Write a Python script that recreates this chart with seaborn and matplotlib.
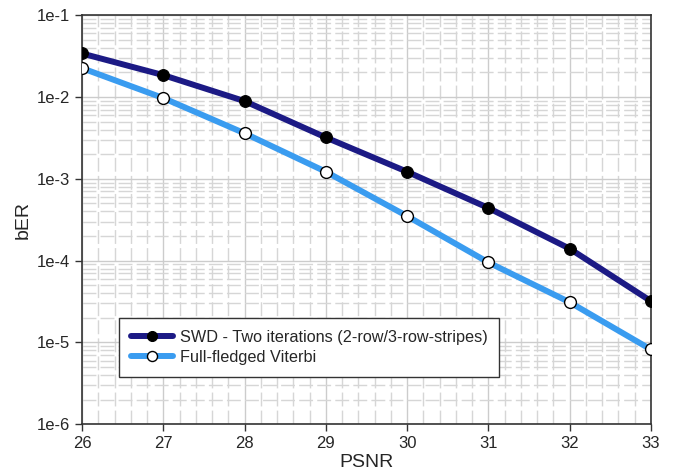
import numpy as np
import pandas as pd
import seaborn as sns
import matplotlib.pyplot as plt
from matplotlib.ticker import LogLocator, MultipleLocator, FixedLocator

psnr = [26, 27, 28, 29, 30, 31, 32, 33]
swd_ber = [3.4e-2, 1.85e-2, 8.9e-3, 3.2e-3, 1.22e-3, 4.4e-4, 1.4e-4, 3.2e-5]
viterbi_ber = [2.25e-2, 9.7e-3, 3.6e-3, 1.22e-3, 3.5e-4, 9.5e-5, 3.1e-5, 8.2e-6]
series_names = ['SWD - Two iterations (2-row/3-row-stripes)', 'Full-fledged Viterbi']
y_ticks = [1e-6, 1e-5, 1e-4, 1e-3, 1e-2, 1e-1]
y_labels = ['1e-6', '1e-5', '1e-4', '1e-3', '1e-2', '1e-1']

sns.set_style('white')
plt.rcParams['font.family'] = ['Liberation Sans', 'DejaVu Sans']

df = pd.DataFrame({
    'PSNR': psnr * 2,
    'bER': swd_ber + viterbi_ber,
    'series': [series_names[0]] * len(psnr) + [series_names[1]] * len(psnr),
})

fig = plt.figure(figsize=(6.78, 4.74), dpi=100)
ax = fig.add_axes([0.121, 0.105, 0.839, 0.863])

sns.lineplot(data=df[df['series'] == series_names[0]], x='PSNR', y='bER', ax=ax,
             color='#1c1a85', lw=4.3, marker='o', markersize=8.5,
             markerfacecolor='black', markeredgecolor='black', label=series_names[0], zorder=4)
sns.lineplot(data=df[df['series'] == series_names[1]], x='PSNR', y='bER', ax=ax,
             color='#3a9cf0', lw=4.3, marker='o', markersize=8.5,
             markerfacecolor='white', markeredgecolor='black', markeredgewidth=1,
             label=series_names[1], zorder=3)

ax.set_yscale('log')
ax.set_xlim(26, 33)
ax.set_ylim(1e-6, 1e-1)
ax.xaxis.set_major_locator(MultipleLocator(1))
ax.xaxis.set_minor_locator(MultipleLocator(0.2))
ax.yaxis.set_major_locator(FixedLocator(y_ticks))
ax.set_yticklabels(y_labels)
ax.yaxis.set_minor_locator(LogLocator(base=10, subs=np.arange(2, 10)))

ax.grid(which='major', color='#cccccc', lw=1, ls='-')
ax.grid(which='minor', color='#d6d6d6', lw=1, ls=(0, (10, 3)))
ax.set_axisbelow(True)

for s in ax.spines.values():
    s.set_color('#333333')
    s.set_linewidth(1.2)

ax.tick_params(which='major', direction='out', length=5, width=1, color='#333333',
               labelsize=12, bottom=True, left=True)
ax.tick_params(which='minor', length=0)
ax.set_xlabel('PSNR', fontsize=14, labelpad=2)
ax.set_ylabel('bER', fontsize=14)

leg = ax.legend(loc='lower left', bbox_to_anchor=(0.05, 0.095), fontsize=11.7,
                fancybox=False, framealpha=1, edgecolor='#333333', handlelength=2.6,
                handletextpad=0.4, borderpad=0.75, labelspacing=0.3, markerscale=0.85)
leg.get_frame().set_linewidth(1)

fig.savefig('out.png', dpi=100)
